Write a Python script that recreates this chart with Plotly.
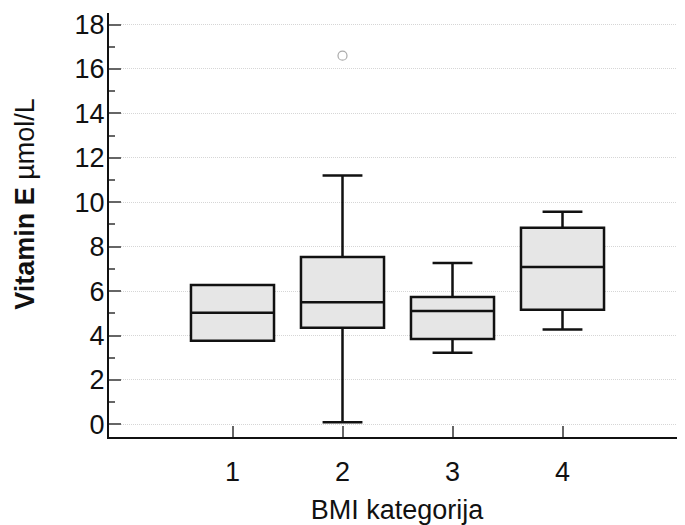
import plotly.graph_objects as go

categories = [1, 2, 3, 4]
q1 = [3.76, 4.35, 3.84, 5.16]
median = [5.02, 5.50, 5.10, 7.08]
q3 = [6.27, 7.53, 5.73, 8.85]
lowerfence = [3.76, 0.09, 3.22, 4.27]
upperfence = [6.27, 11.2, 7.26, 9.57]
outlier_x = [2]
outlier_y = [16.6]
y_ticks = [0, 2, 4, 6, 8, 10, 12, 14, 16, 18]

FONT = "Liberation Sans, Arial, sans-serif"

fig = go.Figure()
fig.add_trace(go.Box(
    x=categories, q1=q1, median=median, q3=q3,
    lowerfence=lowerfence, upperfence=upperfence,
    width=0.755, whiskerwidth=0.48,
    fillcolor="#e6e6e6",
    line=dict(color="#111111", width=2.5),
    boxpoints=False, showlegend=False, hoverinfo="skip",
))
fig.add_trace(go.Scatter(
    x=outlier_x, y=outlier_y, mode="markers",
    marker=dict(symbol="circle-open", size=9, color="#aaaaaa", line=dict(width=1.2)),
    showlegend=False, hoverinfo="skip",
))

fig.update_layout(
    width=677, height=517,
    margin=dict(l=101, r=0, t=5, b=88),
    plot_bgcolor="white", paper_bgcolor="white",
    font=dict(family=FONT, size=27, color="#111111"),
    xaxis=dict(
        range=[-0.1227, 5.1136],
        tickmode="array", tickvals=categories, ticktext=[str(c) for c in categories],
        ticks="inside", ticklen=11, tickwidth=1.5, tickcolor="#666666",
        showline=True, linecolor="#111111", linewidth=2,
        showgrid=False, zeroline=False,
        tickfont=dict(size=27), ticklabelstandoff=10,
        title=dict(text="BMI kategorija", font=dict(size=27), standoff=16),
    ),
    yaxis=dict(
        range=[-0.57, 18.52],
        tickmode="array", tickvals=y_ticks,
        ticks="inside", ticklen=12, tickwidth=1.5, tickcolor="#666666",
        showline=True, linecolor="#111111", linewidth=2,
        showgrid=True, gridcolor="#d6d6d6", griddash="1px,1px", gridwidth=1,
        zeroline=False,
        tickfont=dict(size=27), ticklabelstandoff=-3,
        minor=dict(tickvals=[1, 3, 5, 7, 9, 11, 13, 15, 17], ticks="inside",
                   ticklen=6, tickwidth=1.5, tickcolor="#666666", showgrid=False),
    ),
    annotations=[dict(
        text="<b>Vitamin E</b> µmol/L", textangle=-90,
        xref="paper", yref="paper", x=-0.1458, y=0.55,
        xanchor="center", yanchor="middle", showarrow=False,
        font=dict(size=27, family=FONT, color="#111111"),
    )],
)

fig.write_html("out.html")
